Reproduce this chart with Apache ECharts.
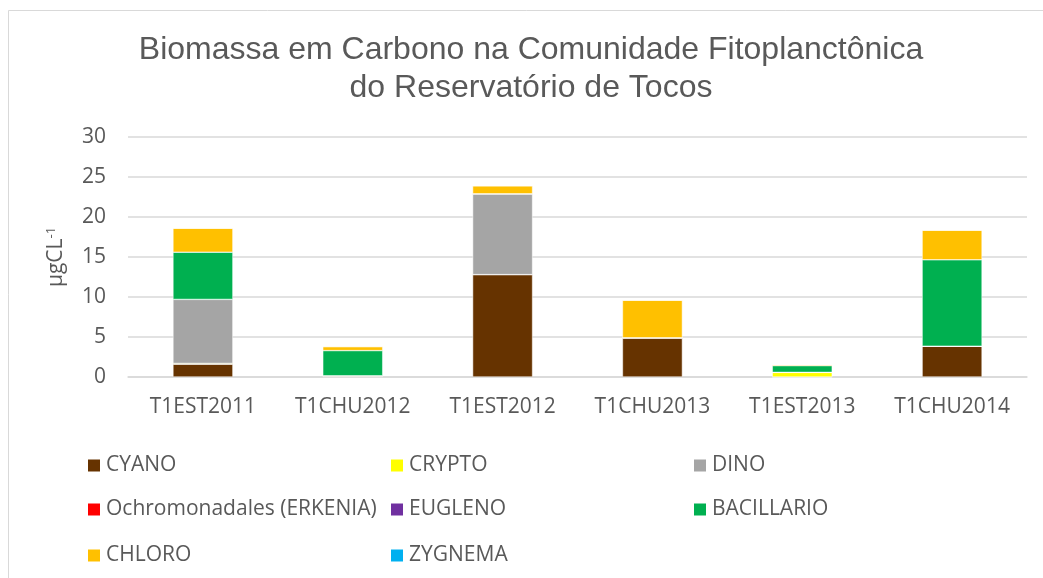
<!DOCTYPE html>
<html>
<head>
<meta charset="utf-8">
<script src="https://cdn.jsdelivr.net/npm/echarts@6/dist/echarts.min.js"></script>
<style>
  html, body { margin: 0; padding: 0; background: #fff; }
  #chart { width: 1043px; height: 578px; }
</style>
</head>
<body>
<div id="chart"></div>
<script>
// amostras (categorias do eixo X)
var categories = ['T1EST2011', 'T1CHU2012', 'T1EST2012', 'T1CHU2013', 'T1EST2013', 'T1CHU2014'];

// biomassa por grupo, ugC/L
var cyanoVals      = [1.6, 0.15, 12.8, 4.9, 0, 3.85];
var cryptoVals     = [0.1, 0, 0, 0, 0.58, 0];
var dinoVals       = [8.0, 0, 10.1, 0, 0, 0];
var ochroVals      = [0, 0, 0, 0, 0, 0];
var euglenoVals    = [0, 0, 0, 0, 0, 0];
var bacillarioVals = [5.9, 3.15, 0, 0, 0.84, 10.8];
var chloroVals     = [3.0, 0.5, 1.0, 4.7, 0.12, 3.7];
var zygnemaVals    = [0, 0, 0, 0, 0, 0];

var yTicks = [0, 5, 10, 15, 20, 25, 30];

var chart = echarts.init(document.getElementById('chart'));

var font = '"Open Sans", sans-serif';

function bar(name, data, color) {
    return {
        name: name,
        type: 'bar',
        stack: 'total',
        data: data,
        barCategoryGap: '60%',
        itemStyle: { color: color, borderColor: '#ffffff', borderWidth: 0.5 }
    };
}

var series = [
    bar('CYANO', cyanoVals, '#663300'),
    bar('CRYPTO', cryptoVals, '#FFFF00'),
    bar('DINO', dinoVals, '#A5A5A5'),
    bar('Ochromonadales (ERKENIA)', ochroVals, '#FF0000'),
    bar('EUGLENO', euglenoVals, '#7030A0'),
    bar('BACILLARIO', bacillarioVals, '#00B050'),
    bar('CHLORO', chloroVals, '#FFC000'),
    bar('ZYGNEMA', zygnemaVals, '#00B0F0')
];

// uma legenda por item, em grade de 3 colunas
var legendCols = [86, 389, 692];
var legendRows = [455, 499, 545];
var legends = series.map(function (s, i) {
    return {
        left: legendCols[i % 3],
        top: legendRows[Math.floor(i / 3)],
        padding: 0,
        data: [s.name],
        itemWidth: 14,
        itemHeight: 14,
        itemTextGap: 6,
        icon: 'rect',
        textStyle: { fontFamily: font, fontSize: 21, color: '#595959', lineHeight: 14 }
    };
});

var option = {
    animation: false,
    backgroundColor: '#ffffff',
    graphic: [{
        type: 'rect',
        shape: { x: 8.5, y: 10.5, width: 1100, height: 600 },
        style: { fill: 'none', stroke: '#D9D9D9', lineWidth: 1 },
        silent: true
    }],
    title: {
        text: 'Biomassa em Carbono na Comunidade Fitoplanctônica\ndo Reservatório de Tocos',
        left: 526,
        textAlign: 'center',
        top: 26,
        textStyle: {
            fontFamily: '"Liberation Sans", Arial, sans-serif',
            fontSize: 32,
            fontWeight: 'normal',
            color: '#595959',
            lineHeight: 38
        }
    },
    legend: legends,
    grid: { left: 128, right: 16, top: 137, bottom: 201 },
    xAxis: {
        type: 'category',
        data: categories,
        axisTick: { show: false },
        axisLine: { lineStyle: { color: '#D9D9D9', width: 1.5 } },
        axisLabel: { interval: 0, fontFamily: font, fontSize: 21, color: '#595959', margin: 20 }
    },
    yAxis: {
        type: 'value',
        min: yTicks[0],
        max: yTicks[yTicks.length - 1],
        interval: 5,
        name: '{a|µgCL}{b|-1}',
        nameLocation: 'middle',
        nameGap: 60,
        nameTextStyle: {
            rich: {
                a: { fontFamily: font, fontSize: 21, color: '#595959' },
                b: { fontFamily: font, fontSize: 13, color: '#595959', verticalAlign: 'top', padding: [0, 0, 10, 0] }
            }
        },
        axisLine: { show: false },
        axisTick: { show: false },
        splitLine: { lineStyle: { color: '#D9D9D9', width: 1.5 } },
        axisLabel: { fontFamily: font, fontSize: 21, color: '#595959', margin: 22 }
    },
    series: series
};

chart.setOption(option);
</script>
</body>
</html>
